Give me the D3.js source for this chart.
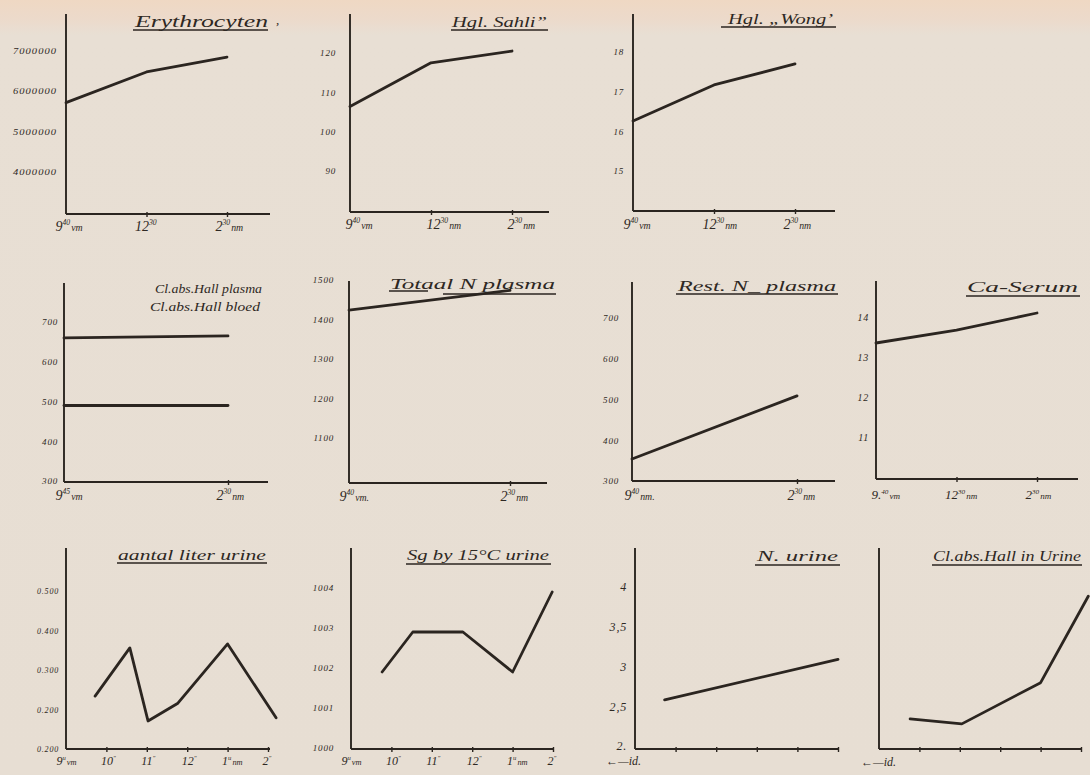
<!DOCTYPE html>
<html>
<head>
<meta charset="utf-8">
<script src="https://cdn.jsdelivr.net/npm/d3@7"></script>
<style>
  html, body { margin: 0; padding: 0; background: #e8dfd4; }
  svg { display: block; }
  text { font-family: "Liberation Serif", "DejaVu Serif", serif; font-style: italic; fill: #2e2823; }
</style>
</head>
<body>
<svg id="chart" width="1090" height="775"></svg>
<script>
// ---------- Blood values (three sampling times) ----------
const bloodTimes = ["9.40", "12.30", "2.30"];

const erythroValues = [5720000, 6480000, 6850000];
const erythroTicks = [4000000, 5000000, 6000000, 7000000];
const erythroTimeLabels = [["9", "40", "vm"], ["12", "30", ""], ["2", "30", "nm"]];

const sahliValues = [106.4, 117.5, 120.5];
const sahliTicks = [90, 100, 110, 120];
const sahliTimeLabels = [["9", "40", "vm"], ["12", "30", "nm"], ["2", "30", "nm"]];

const wongValues = [16.26, 17.17, 17.7];
const wongTicks = [15, 16, 17, 18];
const wongTimeLabels = [["9", "40", "vm"], ["12", "30", "nm"], ["2", "30", "nm"]];

const caValues = [13.35, 13.67, 14.1];
const caTicks = [11, 12, 13, 14];
const caTimeLabels = [["9.", "40", "vm"], ["12", "30", "nm"], ["2", "30", "nm"]];

// ---------- Plasma values (two sampling times) ----------
const plasmaTimes = ["9.40", "2.30"];

const clPlasmaValues = [660, 665];
const clBloodValues = [490, 490];
const clTicks = [300, 400, 500, 600, 700];
const clTimeLabels = [["9", "45", "vm"], ["2", "30", "nm"]];

const totalNValues = [1424, 1474];
const totalNTicks = [1100, 1200, 1300, 1400, 1500];
const totalNTimeLabels = [["9", "40", "vm."], ["2", "30", "nm"]];

const restNValues = [354, 509];
const restNTicks = [300, 400, 500, 600, 700];
const restNTimeLabels = [["9", "40", "nm."], ["2", "30", "nm"]];

// ---------- Urine values (hours after 9.40 vm) ----------
const urineHourTicks = [0, 1, 2, 3, 4, 5];
const urineHourLabels = [["9", "u", "vm"], ["10", "\u2033", ""], ["11", "\u2033", ""], ["12", "\u2033", ""], ["1", "u", "nm"], ["2", "\u2033", ""]];

const volumeHours = [0.72, 1.58, 2.03, 2.77, 4.0, 5.2];
const volumeValues = [0.234, 0.356, 0.171, 0.216, 0.366, 0.179];
const volumeTicks = [0.1, 0.2, 0.3, 0.4, 0.5];
const volumeTickLabels = ["0.200", "0.200", "0.300", "0.400", "0.500"];

const gravityHours = [0.77, 1.53, 2.77, 4.0, 4.98];
const gravityValues = [1001.9, 1002.9, 1002.9, 1001.9, 1003.9];
const gravityTicks = [1000, 1001, 1002, 1003, 1004];

const nUrineHours = [0.73, 5.0];
const nUrineValues = [2.58, 3.09];
const nUrineTicks = [2, 2.5, 3, 3.5, 4];
const nUrineTickLabels = ["2.", "2,5", "3", "3,5", "4"];

const clUrineHours = [0.77, 2.05, 4.0, 5.18];
const clUrineValues = [1.5, 1.25, 3.3, 7.6];

// ---------- Drawing ----------
const svg = d3.select("#chart");
const INK = "#2b2520";

// paper tone, slightly warmer along the top edge
const defs = svg.append("defs");
const grad = defs.append("linearGradient").attr("id", "paper").attr("x1", 0).attr("y1", 0).attr("x2", 0).attr("y2", 1);
grad.append("stop").attr("offset", "0").attr("stop-color", "#efd8c3");
grad.append("stop").attr("offset", "0.025").attr("stop-color", "#ecdacb");
grad.append("stop").attr("offset", "0.045").attr("stop-color", "#e8dfd4");
grad.append("stop").attr("offset", "1").attr("stop-color", "#e7ded3");
svg.append("rect").attr("width", 1090).attr("height", 775).attr("fill", "url(#paper)");

function timeLabel(sel, parts, big) {
  sel.text(null);
  sel.append("tspan").attr("font-size", big).text(parts[0]);
  sel.append("tspan").attr("font-size", big * 0.55).attr("dy", -big * 0.42).text(parts[1]);
  if (parts[2]) sel.append("tspan").attr("font-size", big * 0.7).attr("dy", big * 0.42).attr("dx", 1).text(parts[2]);
}

function panel(p) {
  const g = svg.append("g");

  // hand-ruled axes
  g.append("line").attr("x1", p.left).attr("y1", p.top).attr("x2", p.left).attr("y2", p.bottom)
    .attr("stroke", INK).attr("stroke-width", 1.9);
  g.append("line").attr("x1", p.left).attr("y1", p.bottom).attr("x2", p.right).attr("y2", p.bottom)
    .attr("stroke", INK).attr("stroke-width", 1.9);

  // value axis labels
  if (p.yTicks) {
    const ax = d3.axisLeft(p.y).tickValues(p.yTicks).tickSize(0).tickPadding(0)
      .tickFormat((d, i) => p.yLabels ? p.yLabels[i] : d);
    const ag = g.append("g").attr("transform", `translate(${p.labelRight},0)`).call(ax);
    ag.select(".domain").remove();
    ag.selectAll("text").attr("font-size", p.yFont || 9).attr("letter-spacing", p.ySpacing || 0.8)
      .style("font-family", '"Liberation Serif", serif').style("font-style", "italic").attr("fill", "#3a332d");
    if (p.yWidth) ag.selectAll("text").attr("textLength", p.yWidth).attr("lengthAdjust", "spacingAndGlyphs");
  }

  // time axis ticks and labels
  const xa = d3.axisBottom(p.x).tickValues(p.xTicks).tickSize(3).tickPadding(0).tickFormat(() => "");
  const xg = g.append("g").attr("transform", `translate(0,${p.bottom})`).call(xa);
  xg.select(".domain").remove();
  xg.selectAll(".tick line").attr("stroke", INK).attr("stroke-width", 1.4).attr("y1", -2)
    .attr("display", (d, i) => (i === 0 ? "none" : null));
  if (p.xLabels) {
    xg.selectAll(".tick text")
      .attr("text-anchor", "start")
      .attr("x", (d, i) => (i === 0 ? -p.firstShift : -p.shift))
      .attr("y", p.labelDrop)
      .attr("dy", 0)
      .style("font-family", '"Liberation Serif", serif').style("font-style", "italic")
      .attr("fill", "#2e2823")
      .each(function (d, i) { timeLabel(d3.select(this), p.xLabels[i], p.xFont || 14); });
  }

  // series
  const line = d3.line().x(d => p.x(d[0])).y(d => p.y(d[1]));
  p.series.forEach(s => {
    g.append("path").datum(s).attr("d", line).attr("fill", "none")
      .attr("stroke", INK).attr("stroke-width", 2.8).attr("stroke-linejoin", "round").attr("stroke-linecap", "round");
  });
}

function title(str, x0, x1, y, underline, size) {
  svg.append("text").attr("x", x0).attr("y", y).attr("font-size", size || 16)
    .attr("textLength", x1 - x0).attr("lengthAdjust", "spacingAndGlyphs").text(str);
  (underline || []).forEach(u => {
    svg.append("line").attr("x1", u[0]).attr("x2", u[1]).attr("y1", u[2]).attr("y2", u[2])
      .attr("stroke", INK).attr("stroke-width", 1.3);
  });
}

const zip = (xs, ys) => xs.map((x, i) => [x, ys[i]]);

// Row 1 ------------------------------------------------------------
panel({
  left: 66, right: 270, top: 14, bottom: 214,
  x: d3.scalePoint().domain(bloodTimes).range([66, 227]),
  y: d3.scaleLinear().domain([4000000, 7000000]).range([172, 51]),
  yTicks: erythroTicks, yLabels: erythroTicks.map(d => String(d)), labelRight: 57, yWidth: 44, yFont: 8,
  xTicks: bloodTimes, xLabels: erythroTimeLabels, shift: 12, firstShift: 11, labelDrop: 17,
  series: [zip(bloodTimes, erythroValues)]
});
title("Erythrocyten", 135, 268, 27, [[133, 268, 30]], 16);
svg.append("text").attr("x", 276).attr("y", 24).attr("font-size", 13).text(",");

panel({
  left: 350, right: 549, top: 14, bottom: 212,
  x: d3.scalePoint().domain(bloodTimes).range([350, 512]),
  y: d3.scaleLinear().domain([90, 120]).range([171, 53]),
  yTicks: sahliTicks, labelRight: 336,
  xTicks: bloodTimes, xLabels: sahliTimeLabels, shift: 5, firstShift: 5, labelDrop: 17,
  series: [zip(bloodTimes, sahliValues)]
});
title("Hgl. Sahli\u201D", 452, 547, 27, [[451, 548, 30]], 15);

panel({
  left: 633, right: 835, top: 14, bottom: 211,
  x: d3.scalePoint().domain(bloodTimes).range([633, 795]),
  y: d3.scaleLinear().domain([15, 18]).range([171, 52]),
  yTicks: wongTicks, labelRight: 624,
  xTicks: bloodTimes, xLabels: wongTimeLabels, shift: 12, firstShift: 10, labelDrop: 18,
  series: [zip(bloodTimes, wongValues)]
});
title("Hgl. \u201EWong\u2019", 728, 833, 24, [[721, 836, 27]], 15);

// Row 2 ------------------------------------------------------------
panel({
  left: 64, right: 268, top: 283, bottom: 482,
  x: d3.scalePoint().domain(plasmaTimes).range([64, 228]),
  y: d3.scaleLinear().domain([300, 700]).range([481, 322]),
  yTicks: clTicks, labelRight: 58,
  xTicks: plasmaTimes, xLabels: clTimeLabels, shift: 12, firstShift: 9, labelDrop: 18,
  series: [zip(plasmaTimes, clPlasmaValues), zip(plasmaTimes, clBloodValues)]
});
title("Cl.abs.Hall plasma", 155, 262, 293, [], 13);
title("Cl.abs.Hall bloed", 150, 260, 311, [], 13);

panel({
  left: 349, right: 547, top: 281, bottom: 483,
  x: d3.scalePoint().domain(plasmaTimes).range([349, 510]),
  y: d3.scaleLinear().domain([1100, 1500]).range([438, 280]),
  yTicks: totalNTicks, labelRight: 334,
  xTicks: plasmaTimes, xLabels: totalNTimeLabels, shift: 10, firstShift: 10, labelDrop: 18,
  series: [zip(plasmaTimes, totalNValues)]
});
title("Totaal N    plasma", 390, 555, 289, [[389, 428, 291], [443, 556, 294]], 14);

panel({
  left: 632, right: 835, top: 282, bottom: 481,
  x: d3.scalePoint().domain(plasmaTimes).range([632, 797]),
  y: d3.scaleLinear().domain([300, 700]).range([481, 318]),
  yTicks: restNTicks, labelRight: 619,
  xTicks: plasmaTimes, xLabels: restNTimeLabels, shift: 10, firstShift: 8, labelDrop: 19,
  series: [zip(plasmaTimes, restNValues)]
});
title("Rest. N_ plasma", 678, 836, 291, [[676, 838, 294]], 15);

panel({
  left: 876, right: 1078, top: 281, bottom: 479,
  x: d3.scalePoint().domain(bloodTimes).range([876, 1037]),
  y: d3.scaleLinear().domain([11, 14]).range([437, 317]),
  yTicks: caTicks, labelRight: 869, yFont: 10,
  xTicks: bloodTimes, xLabels: caTimeLabels, shift: 12, firstShift: 5, labelDrop: 20, xFont: 13,
  series: [zip(bloodTimes, caValues)]
});
title("Ca-Serum", 967, 1078, 292, [[966, 1080, 296]], 15);

// Row 3 ------------------------------------------------------------
panel({
  left: 66, right: 270, top: 548, bottom: 749,
  x: d3.scaleLinear().domain([0, 5]).range([66, 268]),
  y: d3.scaleLinear().domain([0.1, 0.5]).range([749, 591]),
  yTicks: volumeTicks, yLabels: volumeTickLabels, labelRight: 59, yFont: 8,
  xTicks: urineHourTicks, xLabels: urineHourLabels, shift: 6, firstShift: 10, labelDrop: 16, xFont: 12,
  series: [zip(volumeHours, volumeValues)]
});
title("aantal liter urine", 118, 266, 560, [[117, 267, 563]], 14);

panel({
  left: 351, right: 554, top: 548, bottom: 749,
  x: d3.scaleLinear().domain([0, 5]).range([351, 553]),
  y: d3.scaleLinear().domain([1000, 1004]).range([748, 588]),
  yTicks: gravityTicks, labelRight: 334,
  xTicks: urineHourTicks, xLabels: urineHourLabels, shift: 6, firstShift: 10, labelDrop: 16, xFont: 12,
  series: [zip(gravityHours, gravityValues)]
});
title("Sg by 15\u00B0C urine", 407, 549, 560, [[406, 551, 564]], 14);

panel({
  left: 635, right: 838, top: 548, bottom: 749,
  x: d3.scaleLinear().domain([0, 5]).range([635, 838]),
  y: d3.scaleLinear().domain([2, 4]).range([746, 587]),
  yTicks: nUrineTicks, yLabels: nUrineTickLabels, labelRight: 627, yFont: 12,
  xTicks: urineHourTicks,
  series: [zip(nUrineHours, nUrineValues)]
});
title("N. urine", 757, 838, 561, [[755, 840, 565]], 15);
svg.append("text").attr("x", 606).attr("y", 765).attr("font-size", 12).text("\u2190\u2014id.");

panel({
  left: 879, right: 1082, top: 548, bottom: 749,
  x: d3.scaleLinear().domain([0, 5]).range([879, 1081]),
  y: d3.scaleLinear().domain([0, 10]).range([749, 548]),
  xTicks: urineHourTicks,
  series: [zip(clUrineHours, clUrineValues)]
});
title("Cl.abs.Hall in Urine", 933, 1081, 561, [[932, 1082, 565]], 14);
svg.append("text").attr("x", 861).attr("y", 766).attr("font-size", 12).text("\u2190\u2014id.");
</script>
</body>
</html>
